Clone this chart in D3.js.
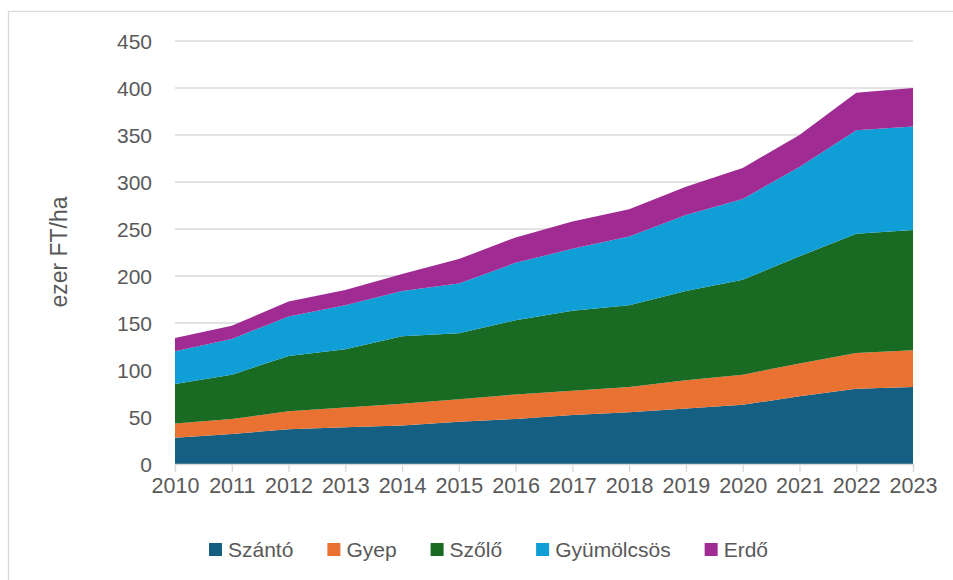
<!DOCTYPE html>
<html lang="hu">
<head>
<meta charset="utf-8">
<title>ezer FT/ha</title>
<script src="https://cdn.jsdelivr.net/npm/d3@7"></script>
<style>
  body { margin: 0; background: #fff; }
  svg text { font-family: "Liberation Sans", Arial, sans-serif; fill: #595959; }
</style>
</head>
<body>
<script>
// data (ezer FT/ha)
var years = [2010, 2011, 2012, 2013, 2014, 2015, 2016, 2017, 2018, 2019, 2020, 2021, 2022, 2023];
var szanto = [28, 32, 37, 39, 41, 45, 48, 52, 55, 59, 63, 72, 80, 82];
var gyep = [15, 16, 19, 21, 23, 24, 26, 26, 27, 30, 32, 35, 38, 39];
var szolo = [42, 47, 59, 62, 72, 70, 79, 85, 87, 95, 101, 114, 127, 128];
var gyumolcsos = [35, 38, 42, 47, 48, 53, 61, 66, 73, 81, 86, 95, 110, 110];
var erdo = [14, 14, 16, 16, 18, 26, 27, 29, 29, 30, 33, 34, 40, 41];

var seriesNames = ["Szántó", "Gyep", "Szőlő", "Gyümölcsös", "Erdő"];
var seriesValues = [szanto, gyep, szolo, gyumolcsos, erdo];
var colors = ["#156082", "#E97132", "#196B24", "#0F9ED5", "#A02B93"];
var yTicks = [0, 50, 100, 150, 200, 250, 300, 350, 400, 450];

var width = 953, height = 580;

var svg = d3.select("body").append("svg")
  .attr("width", width)
  .attr("height", height);

// chart frame
svg.append("rect")
  .attr("x", 8.5).attr("y", 11.5)
  .attr("width", 1000).attr("height", 700)
  .attr("fill", "none")
  .attr("stroke", "#d9d9d9")
  .attr("stroke-width", 1.3);

var x = d3.scaleLinear().domain([2010, 2023]).range([175, 913]);
var y = d3.scaleLinear().domain([0, 450]).range([464, 41]);

// rows for the stack
var rows = years.map(function(yr, i) {
  var r = { year: yr };
  seriesNames.forEach(function(n, k) { r[n] = seriesValues[k][i]; });
  return r;
});
var stacked = d3.stack().keys(seriesNames)(rows);

// gridlines
svg.append("g")
  .selectAll("line")
  .data(yTicks.filter(function(t) { return t > 0; }))
  .enter().append("line")
  .attr("x1", x(2010)).attr("x2", x(2023))
  .attr("y1", function(d) { return y(d); })
  .attr("y2", function(d) { return y(d); })
  .attr("stroke", "#d9d9d9")
  .attr("stroke-width", 1.3);

var area = d3.area()
  .x(function(d) { return x(d.data.year); })
  .y0(function(d) { return y(d[0]); })
  .y1(function(d) { return y(d[1]); });

svg.append("g")
  .selectAll("path")
  .data(stacked)
  .enter().append("path")
  .attr("d", area)
  .attr("fill", function(d, i) { return colors[i]; });

// y axis labels
var yAxis = svg.append("g")
  .attr("transform", "translate(160,0)")
  .call(d3.axisLeft(y).tickValues(yTicks).tickSize(0).tickPadding(0));
yAxis.select(".domain").remove();
yAxis.selectAll("text")
  .attr("font-size", 21)
  .attr("fill", "#595959")
  .attr("x", -8)
  .attr("dy", "0.36em");

// x axis
var xAxis = svg.append("g")
  .attr("transform", "translate(0," + y(0) + ")")
  .call(d3.axisBottom(x).tickValues(years).tickFormat(d3.format("d")).tickSize(8).tickPadding(6));
xAxis.select(".domain").attr("stroke", "#d9d9d9").attr("stroke-width", 1.3);
xAxis.selectAll(".tick line").attr("stroke", "#d9d9d9").attr("stroke-width", 1.3);
xAxis.selectAll("text")
  .attr("font-size", 21.5)
  .attr("fill", "#595959");

// y axis title
svg.append("text")
  .attr("transform", "translate(67,252) rotate(-90)")
  .attr("text-anchor", "middle")
  .attr("font-size", 23)
  .text("ezer FT/ha");

// legend
var legend = svg.append("g");
var lx = 209;
seriesNames.forEach(function(n, i) {
  legend.append("rect")
    .attr("x", lx).attr("y", 543)
    .attr("width", 13).attr("height", 13)
    .attr("fill", colors[i]);
  var t = legend.append("text")
    .attr("x", lx + 19).attr("y", 557)
    .attr("font-size", 21)
    .text(n);
  lx += 19 + t.node().getComputedTextLength() + 34;
});
</script>
</body>
</html>
